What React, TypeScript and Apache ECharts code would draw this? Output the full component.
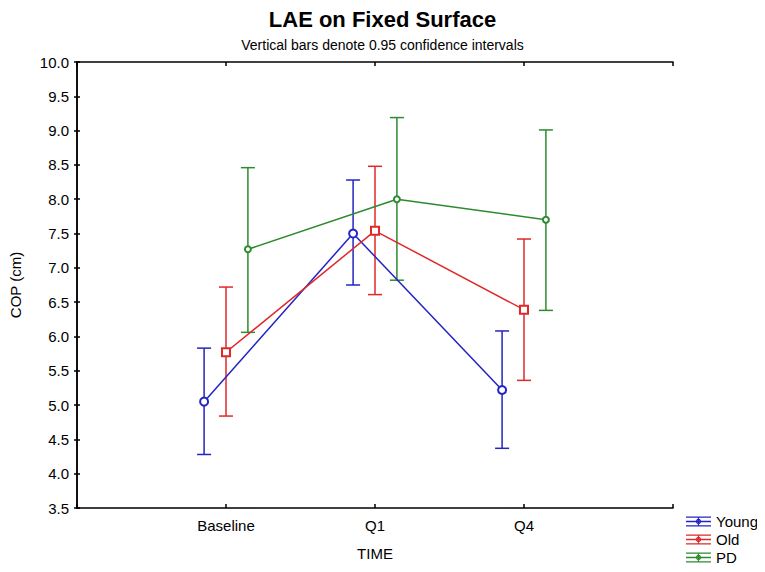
import React, { useEffect, useRef } from "react";
import * as echarts from "echarts";

const categories = ["Baseline", "Q1", "Q4"];
const groupNames = ["Young", "Old", "PD"];
const youngMean = [5.05, 7.5, 5.22];
const youngLow = [4.28, 6.75, 4.37];
const youngHigh = [5.83, 8.28, 6.08];
const oldMean = [5.77, 7.54, 6.39];
const oldLow = [4.84, 6.61, 5.36];
const oldHigh = [6.72, 8.48, 7.42];
const pdMean = [7.27, 8.0, 7.7];
const pdLow = [6.06, 6.82, 6.38];
const pdHigh = [8.46, 9.19, 9.01];
const yMin = 3.5;
const yMax = 10;
const yStep = 0.5;

const colors = ["#2424c4", "#e02828", "#2e8a2e"];
const symbols = ["emptyCircle", "emptyRect", "emptyCircle"];
const symbolSizes = [8, 8, 6];
const dodge = [-0.147, 0, 0.147];
const FONT = "'Liberation Sans', Arial, sans-serif";

const legendIcon =
  "path://M0 0H25V1.3H0Z M0 4.35H25V5.65H0Z M0 8.7H25V10H0Z M11.85 0H13.15V10H11.85Z " +
  "M12.5 2.3A2.7 2.7 0 1 1 12.49 2.3Z M12.5 3.5A1.5 1.5 0 1 0 12.51 3.5Z";

export default function App() {
  const ref = useRef<HTMLDivElement>(null);
  useEffect(() => {
    if (!ref.current) return;
    const chart = echarts.init(ref.current, null, { renderer: "svg" });
    const means = [youngMean, oldMean, pdMean];
    const lows = [youngLow, oldLow, pdLow];
    const highs = [youngHigh, oldHigh, pdHigh];

    const series: any[] = [];
    groupNames.forEach((name, g) => {
      series.push({
        name: name + " CI",
        type: "custom",
        z: 2,
        encode: { x: 0, y: [1, 2] },
        data: categories.map((_, i) => [i + 1 + dodge[g], lows[g][i], highs[g][i]]),
        renderItem: (params: any, api: any) => {
          const x = api.value(0);
          const lo = api.coord([x, api.value(1)]);
          const hi = api.coord([x, api.value(2)]);
          const half = 7;
          const style = { stroke: colors[g], lineWidth: 1.5 };
          return {
            type: "group",
            children: [
              { type: "line", shape: { x1: lo[0], y1: lo[1], x2: hi[0], y2: hi[1] }, style },
              { type: "line", shape: { x1: hi[0] - half, y1: hi[1], x2: hi[0] + half, y2: hi[1] }, style },
              { type: "line", shape: { x1: lo[0] - half, y1: lo[1], x2: lo[0] + half, y2: lo[1] }, style },
            ],
          };
        },
      });
    });
    groupNames.forEach((name, g) => {
      series.push({
        name,
        type: "line",
        z: 3,
        data: categories.map((_, i) => [i + 1 + dodge[g], means[g][i]]),
        symbol: symbols[g],
        symbolSize: symbolSizes[g],
        lineStyle: { color: colors[g], width: 1.5 },
        itemStyle: { color: colors[g], borderWidth: 1.5 },
      });
    });

    const axisLine = { show: true, lineStyle: { color: "#000", width: 1.5 } };
    chart.setOption({
      animation: false,
      backgroundColor: "#fff",
      title: {
        text: "LAE on Fixed Surface",
        subtext: "Vertical bars denote 0.95 confidence intervals",
        left: "center",
        top: 3,
        itemGap: 8,
        textStyle: { fontFamily: FONT, fontSize: 22, fontWeight: "bold", color: "#000" },
        subtextStyle: { fontFamily: FONT, fontSize: 14, color: "#000" },
      },
      grid: { left: 73, right: 92, top: 62, bottom: 64, containLabel: false },
      legend: {
        orient: "vertical",
        left: 686,
        top: 514,
        padding: 0,
        itemWidth: 25,
        itemHeight: 10,
        itemGap: 3,
        textStyle: { fontFamily: FONT, fontSize: 15, color: "#000", overflow: "none", width: 48 },
        data: groupNames.map((n, g) => ({ name: n, icon: legendIcon, itemStyle: { color: colors[g] } })),
      },
      xAxis: [
        {
          type: "value",
          min: 0,
          max: categories.length + 1,
          interval: 1,
          position: "bottom",
          name: "TIME",
          nameLocation: "middle",
          nameGap: 38,
          nameTextStyle: { fontFamily: FONT, fontSize: 15, color: "#000" },
          axisLine,
          axisTick: { show: true, inside: true, length: 4, lineStyle: { color: "#000", width: 1.5 } },
          axisLabel: {
            fontFamily: FONT,
            fontSize: 15,
            color: "#000",
            margin: 10,
            formatter: (v: number) => categories[Math.round(v) - 1] ?? "",
          },
          splitLine: { show: false },
        },
        {
          type: "value",
          min: 0,
          max: categories.length + 1,
          interval: 1,
          position: "top",
          axisLine,
          axisTick: { show: true, inside: true, length: 4, lineStyle: { color: "#000", width: 1.5 } },
          axisLabel: { show: false },
          splitLine: { show: false },
        },
      ],
      yAxis: [
        {
          type: "value",
          min: yMin,
          max: yMax,
          interval: yStep,
          position: "left",
          name: "COP (cm)",
          nameLocation: "middle",
          nameGap: 54,
          nameTextStyle: { fontFamily: FONT, fontSize: 15, color: "#000" },
          axisLine,
          axisTick: { show: true, inside: true, length: 3, lineStyle: { color: "#000", width: 1.5 } },
          axisLabel: {
            fontFamily: FONT,
            fontSize: 15,
            color: "#000",
            margin: 8,
            formatter: (v: number) => v.toFixed(1),
          },
          splitLine: { show: false },
        },
        {
          type: "value",
          min: yMin,
          max: yMax,
          interval: yStep,
          position: "right",
          axisLine,
          axisTick: { show: true, inside: true, length: 3, lineStyle: { color: "#000", width: 1.5 } },
          axisLabel: { show: false },
          splitLine: { show: false },
        },
      ],
      series,
    });
    return () => chart.dispose();
  }, []);
  return <div ref={ref} style={{ width: 765, height: 572, margin: -8 }} />;
}
